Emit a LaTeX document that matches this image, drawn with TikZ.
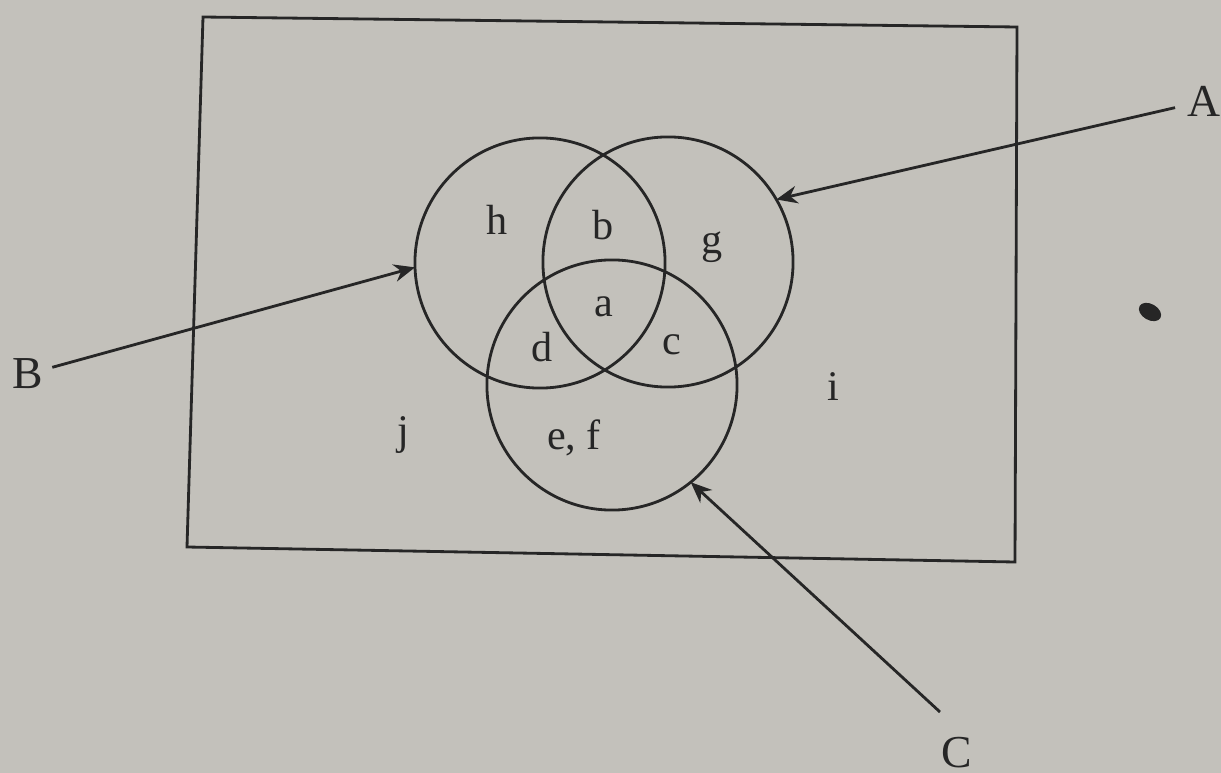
\documentclass[tikz,border=0pt]{standalone}
\usepackage{fontspec}
\setmainfont{Liberation Serif}
\usetikzlibrary{arrows.meta}
\definecolor{paper}{RGB}{195,193,187}
\definecolor{ink}{RGB}{38,38,38}
\begin{document}
\begin{tikzpicture}[x=0.01cm, y=-0.01cm,
    every node/.style={font=\fontsize{12}{14}\selectfont, text=ink},
    setcircle/.style={draw=ink, line width=0.8pt, circle, minimum size=2.5cm, inner sep=0pt, outer sep=0pt},
    setname/.style={font=\fontsize{13}{15}\selectfont},
    pointer/.style={draw=ink, line width=0.8pt, -{Stealth[length=6pt, width=5pt]}}]
    % Papier
    \fill[paper] (0,0) rectangle (1221,773);
    \useasboundingbox (0,0) rectangle (1221,773);

    % Grundmenge
    \draw[ink, line width=0.8pt] (203,17) -- (1017,27) -- (1015,562) -- (187,547) -- cycle;

    % Mengen
    \node[setcircle] (setB) at (540,263) {};
    \node[setcircle] (setA) at (668,262) {};
    \node[setcircle] (setC) at (612,385) {};

    % Bereiche
    \node (h) at (497,220) {h};
    \node (b) at (603,225) {b};
    \node (g) at (712,247) {g};
    \node (a) at (604,307) {a};
    \node (d) at (542,347) {d};
    \node (c) at (672,345) {c};
    \node (i) at (833,387) {i};
    \node (j) at (403,435) {j};
    \node (ef) at (574,438) {e, f};

    % Beschriftung
    \node[setname] (labA) at (1204,101) {A};
    \node[setname] (labB) at (28,374) {B};
    \node[setname] (labC) at (957,753) {C};
    \coordinate (tailC) at (940,712);
    \draw[pointer] (labA) -- (setA.30);
    \draw[pointer, shorten <=-1pt] (labB) -- (setB.182);
    \draw[pointer] (tailC) -- (setC.-51);

    % Fleck
    \fill[ink, rotate around={-30:(1150,312)}] (1150,312) ellipse (12 and 8);
\end{tikzpicture}
\end{document}
